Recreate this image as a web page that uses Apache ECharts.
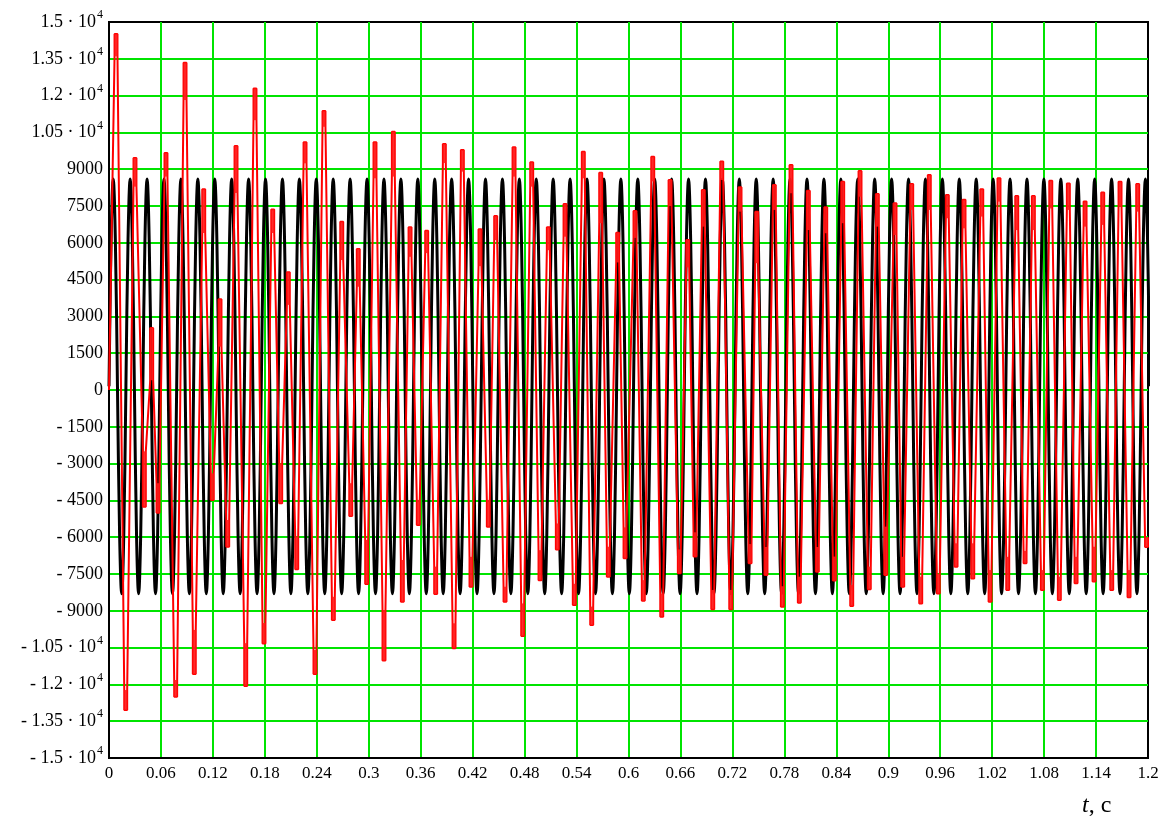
<!DOCTYPE html>
<html>
<head>
<meta charset="utf-8">
<script src="https://cdn.jsdelivr.net/npm/echarts@6/dist/echarts.min.js"></script>
<style>
  html, body { margin: 0; padding: 0; background: #fff; }
  #chart { width: 1175px; height: 820px; }
</style>
</head>
<body>
<div id="chart"></div>
<script>
// ---- axes ----
const xMin = 0, xMax = 1.2, xStep = 0.06;
const yMin = -15000, yMax = 15000, yStep = 1500;
// tick values printed in scientific form (mantissa · 10^4)
const yBigTicks = { 10500: '1.05', 12000: '1.2', 13500: '1.35', 15000: '1.5' };
const yExponent = '4';

// ---- black trace: sampled every eighth of its period (s) ----
const blackStep = 0.0024429;
const blackValues = [
  150,6125,8600,6125,150,-5825,-8300,-5825, 150,6125,8600,6125,150,-5825,-8300,-5825, 150,6125,8600,6125,150,-5825,-8300,-5825, 150,6125,8600,6125,150,-5825,-8300,-5825,
  150,6125,8600,6125,150,-5825,-8300,-5825, 150,6125,8600,6125,150,-5825,-8300,-5825, 150,6125,8600,6125,150,-5825,-8300,-5825, 150,6125,8600,6125,150,-5825,-8300,-5825,
  150,6125,8600,6125,150,-5825,-8300,-5825, 150,6125,8600,6125,150,-5825,-8300,-5825, 150,6125,8600,6125,150,-5825,-8300,-5825, 150,6125,8600,6125,150,-5825,-8300,-5825,
  150,6125,8600,6125,150,-5825,-8300,-5825, 150,6125,8600,6125,150,-5825,-8300,-5825, 150,6125,8600,6125,150,-5825,-8300,-5825, 150,6125,8600,6125,150,-5825,-8300,-5825,
  150,6125,8600,6125,150,-5825,-8300,-5825, 150,6125,8600,6125,150,-5825,-8300,-5825, 150,6125,8600,6125,150,-5825,-8300,-5825, 150,6125,8600,6125,150,-5825,-8300,-5825,
  150,6125,8600,6125,150,-5825,-8300,-5825, 150,6125,8600,6125,150,-5825,-8300,-5825, 150,6125,8600,6125,150,-5825,-8300,-5825, 150,6125,8600,6125,150,-5825,-8300,-5825,
  150,6125,8600,6125,150,-5825,-8300,-5825, 150,6125,8600,6125,150,-5825,-8300,-5825, 150,6125,8600,6125,150,-5825,-8300,-5825, 150,6125,8600,6125,150,-5825,-8300,-5825,
  150,6125,8600,6125,150,-5825,-8300,-5825, 150,6125,8600,6125,150,-5825,-8300,-5825, 150,6125,8600,6125,150,-5825,-8300,-5825, 150,6125,8600,6125,150,-5825,-8300,-5825,
  150,6125,8600,6125,150,-5825,-8300,-5825, 150,6125,8600,6125,150,-5825,-8300,-5825, 150,6125,8600,6125,150,-5825,-8300,-5825, 150,6125,8600,6125,150,-5825,-8300,-5825,
  150,6125,8600,6125,150,-5825,-8300,-5825, 150,6125,8600,6125,150,-5825,-8300,-5825, 150,6125,8600,6125,150,-5825,-8300,-5825, 150,6125,8600,6125,150,-5825,-8300,-5825,
  150,6125,8600,6125,150,-5825,-8300,-5825, 150,6125,8600,6125,150,-5825,-8300,-5825, 150,6125,8600,6125,150,-5825,-8300,-5825, 150,6125,8600,6125,150,-5825,-8300,-5825,
  150,6125,8600,6125,150,-5825,-8300,-5825, 150,6125,8600,6125,150,-5825,-8300,-5825, 150,6125,8600,6125,150,-5825,-8300,-5825, 150,6125,8600,6125,150,-5825,-8300,-5825,
  150,6125,8600,6125,150,-5825,-8300,-5825, 150,6125,8600,6125,150,-5825,-8300,-5825, 150,6125,8600,6125,150,-5825,-8300,-5825, 150,6125,8600,6125,150,-5825,-8300,-5825,
  150,6125,8600,6125,150,-5825,-8300,-5825, 150,6125,8600,6125,150,-5825,-8300,-5825, 150,6125,8600,6125,150,-5825,-8300,-5825, 150,6125,8600,6125,150,-5825,-8300,-5825,
  150,6125,8600,6125,150,-5825,-8300,-5825, 150,6125,8600,6125,150,-5825,-8300,-5825, 150,6125,8600,6125,150,-5825,-8300,-5825, 150,6125,8600,6125,150,-5825,-8300,-5825,
  150,6125,8600,6125,150,-5825,-8300,-5825,
  150,6125,8600,6125,150
];

// ---- red trace: start point, then alternating maxima and minima ----
const redStart = [0, 0];
// each crest / trough is a ragged band this many seconds either side of its time
const bandHalfWidth = 0.0017;
// maxima: time (s), highest value, lower edge of the ragged crest
const peakT = [0.0081,0.0300,0.0493,0.0658,0.0878,0.1094,0.1282,0.1467,0.1686,0.1891,
               0.2071,0.2264,0.2483,0.2688,0.2879,0.3072,0.3284,0.3477,0.3669,0.3873,
               0.4081,0.4285,0.4466,0.4678,0.4882,0.5074,0.5267,0.5478,0.5679,0.5875,
               0.6075,0.6280,0.6480,0.6684,0.6864,0.7077,0.7288,0.7481,0.7684,0.7877,
               0.8077,0.8278,0.8474,0.8674,0.8874,0.9078,0.9271,0.9474,0.9682,0.9875,
               1.0080,1.0279,1.0484,1.0676,1.0877,1.1080,1.1273,1.1477,1.1677,1.1881];
const peakTop = [14510,9460,2530,9660,13340,8180,3700,9950,12290,7360,
                 4800,10100,11370,6860,5750,10100,10530,6630,6490,10030,
                 9780,6550,7090,9890,9280,6630,7580,9710,8860,6410,
                 7300,9510,8560,6110,8150,9310,8260,7270,8360,9170,
                 8120,7450,8490,8930,7990,7610,8400,8760,7950,7750,
                 8180,8630,7910,7910,8530,8420,7680,8050,8490,8400];
const peakLow = [13600,8290,400,8700,11820,6400,1770,8030,11000,6400,
                 3470,9240,10730,5300,4210,8630,8700,5430,5580,9250,
                 8900,5050,6110,8700,8290,5700,6250,8630,6800,5200,
                 6200,8500,7500,5000,6660,8560,7270,5170,7340,8020,
                 6520,6390,6800,7880,6660,6320,7340,7340,7000,6590,
                 7070,7680,6520,6520,7400,7340,6660,6730,7470,7270];
// minima: time (s), lowest value, upper edge of the ragged trough
const troughT = [0.0193,0.0408,0.0566,0.0770,0.0985,0.1193,0.1371,0.1579,0.1790,0.1983,
                 0.2168,0.2379,0.2591,0.2792,0.2976,0.3176,0.3388,0.3572,0.3773,0.3985,
                 0.4181,0.4381,0.4574,0.4778,0.4978,0.5178,0.5374,0.5575,0.5767,0.5960,
                 0.6171,0.6384,0.6587,0.6768,0.6973,0.7181,0.7404,0.7588,0.7777,0.7973,
                 0.8181,0.8377,0.8578,0.8781,0.8971,0.9167,0.9375,0.9578,0.9783,0.9976,
                 1.0176,1.0380,1.0580,1.0780,1.0976,1.1169,1.1377,1.1581,1.1781,1.1983];
const troughLow = [-13040,-4760,-5000,-12500,-11580,-4480,-6390,-12070,-10330,-4620,
                   -7310,-11580,-9380,-5140,-7910,-11030,-8630,-5500,-8320,-10530,
                   -8020,-5570,-8630,-10030,-7750,-6500,-8760,-9580,-7610,-6860,
                   -8590,-9240,-7470,-6790,-8940,-8940,-7060,-7540,-8830,-8670,
                   -7410,-7770,-8800,-8120,-7540,-8020,-8700,-8290,-7200,-7680,
                   -8630,-8150,-7060,-8150,-8560,-7880,-7810,-8150,-8450,-6400];
const troughHigh = [-12230,-2500,-3800,-11820,-9780,-3400,-5300,-10320,-9500,-2990,
                    -5980,-10600,-8430,-3800,-6110,-8970,-6930,-4480,-7200,-9510,
                    -6800,-4480,-8020,-8700,-6530,-5440,-7900,-8830,-6390,-5600,
                    -7750,-8290,-6500,-5800,-8150,-8150,-6280,-6400,-8000,-7610,
                    -6400,-6790,-7950,-7200,-5570,-6800,-7610,-7500,-6250,-6250,
                    -7340,-6800,-6560,-7340,-7610,-6800,-6390,-7340,-7340,-6000];

// ---- build series data ----
const blackData = blackValues.map((v, i) => [i * blackStep, v]);

// red path: climb into each crest band, cross its top, leave from its lower edge,
// then fall into the next trough band and climb out of it
const h = bandHalfWidth;
const redData = [redStart];
for (let i = 0; i < peakT.length; i++) {
  const tp = peakT[i], tq = troughT[i];
  redData.push([tp - h, peakLow[i]], [tp - h, peakTop[i]], [tp + h, peakTop[i]], [tp + h, peakLow[i]]);
  redData.push([tq - h, troughHigh[i]], [tq - h, troughLow[i]], [tq + h, troughLow[i]], [tq + h, troughHigh[i]]);
}

// ragged bands of the red trace: [t, low, high]
const bandData = peakT.map((t, i) => [t, peakLow[i], peakTop[i]])
  .concat(troughT.map((t, i) => [t, troughLow[i], troughHigh[i]]));

const SERIF = 'Liberation Serif, Times New Roman, serif';
const GRID_GREEN = '#00e400';

function yLabel(v) {
  if (v === 0) return '{n|0}';
  const a = Math.abs(v);
  const s = v < 0 ? '- ' : '';
  if (yBigTicks[a]) return '{n|' + s + yBigTicks[a] + ' \u00b7 10}{e|' + yExponent + '}';
  return '{n|' + s + a + '}';
}

const chart = echarts.init(document.getElementById('chart'), null, { renderer: 'canvas' });
chart.setOption({
  animation: false,
  backgroundColor: '#fff',
  textStyle: { fontFamily: SERIF },
  grid: {
    left: 109, right: 27, top: 22, bottom: 62,
    show: true, borderColor: '#000', borderWidth: 2, backgroundColor: 'transparent'
  },
  xAxis: {
    type: 'value', min: xMin, max: xMax, interval: xStep,
    axisLine: { show: true, onZero: false, lineStyle: { color: '#000', width: 2 } },
    axisTick: { show: false },
    splitLine: { show: true, showMinLine: false, showMaxLine: false,
                 lineStyle: { color: GRID_GREEN, width: 2 } },
    axisLabel: {
      margin: 7, color: '#000', fontSize: 17, fontFamily: SERIF,
      formatter: v => String(Math.round(v * 100) / 100)
    }
  },
  yAxis: {
    type: 'value', min: yMin, max: yMax, interval: yStep,
    axisLine: { show: true, onZero: false, lineStyle: { color: '#000', width: 2 } },
    axisTick: { show: false },
    splitLine: { show: true, showMinLine: false, showMaxLine: false,
                 lineStyle: { color: GRID_GREEN, width: 2 } },
    axisLabel: {
      margin: 6, color: '#000',
      formatter: yLabel,
      rich: {
        n: { fontSize: 18, fontFamily: SERIF, color: '#000', lineHeight: 26 },
        e: { fontSize: 12, fontFamily: SERIF, color: '#000', verticalAlign: 'top', lineHeight: 12, padding: [0, 0, 0, 1] }
      }
    }
  },
  graphic: [{
    type: 'text', left: 1082, top: 794,
    style: {
      text: '{i|t}{r|, c}',
      rich: {
        i: { fontSize: 24, fontStyle: 'italic', fontFamily: SERIF, fill: '#000' },
        r: { fontSize: 24, fontFamily: SERIF, fill: '#000' }
      }
    }
  }],
  series: [
    {
      name: 'black', type: 'line', data: blackData,
      showSymbol: false, smooth: 0.4, clip: true, z: 2,
      lineStyle: { color: '#000', width: 3 }
    },
    {
      name: 'red', type: 'line', data: redData,
      showSymbol: false, clip: true, z: 3,
      lineStyle: { color: '#ff0000', width: 2 }
    },
    {
      name: 'bands', type: 'custom', data: bandData, z: 4,
      encode: { x: 0, y: [1, 2] },
      renderItem: (params, api) => {
        const a = api.coord([api.value(0) - h, api.value(2)]);
        const b = api.coord([api.value(0) + h, api.value(1)]);
        return {
          type: 'rect',
          shape: { x: a[0], y: Math.min(a[1], b[1]), width: b[0] - a[0], height: Math.abs(b[1] - a[1]) },
          style: { fill: '#ff1a1a', opacity: 0.9 }
        };
      }
    }
  ]
});
</script>
</body>
</html>
